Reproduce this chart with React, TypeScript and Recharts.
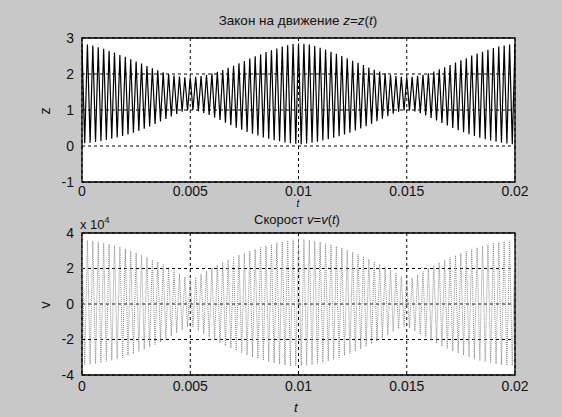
import React from 'react';
import { LineChart, Line, XAxis, YAxis, CartesianGrid, ReferenceArea } from 'recharts';

// time axis
const tEnd = 0.02;
const xTicks = [0, 0.005, 0.01, 0.015, 0.02];
const xTickLabels = ['0', '0.005', '0.01', '0.015', '0.02'];

const zPeaks = [
  2.80, 2.82, 2.79, 2.74, 2.70, 2.64, 2.60, 2.53, 2.48, 2.41, 2.35, 2.29, 2.22, 2.16, 2.10, 2.05, 2.00, 1.96, 1.93, 1.91,
  1.90, 1.92, 1.94, 1.97, 2.01, 2.06, 2.11, 2.17, 2.23, 2.30, 2.36, 2.43, 2.49, 2.55, 2.61, 2.66, 2.71, 2.76, 2.80, 2.83,
  2.85, 2.84, 2.82, 2.78, 2.73, 2.68, 2.62, 2.56, 2.50, 2.44, 2.37, 2.31, 2.25, 2.18, 2.12, 2.07, 2.02, 1.97, 1.94, 1.92,
  1.91, 1.92, 1.95, 1.98, 2.02, 2.07, 2.13, 2.19, 2.25, 2.32, 2.38, 2.44, 2.51, 2.57, 2.62, 2.67, 2.72, 2.76, 2.79, 2.82,
  2.84,
];
const zTroughs = [
  0.08, 0.09, 0.11, 0.14, 0.17, 0.20, 0.24, 0.28, 0.32, 0.37, 0.42, 0.48, 0.54, 0.61, 0.68, 0.75, 0.82, 0.89, 0.95, 0.99,
  1.00, 0.97, 0.92, 0.86, 0.79, 0.72, 0.65, 0.58, 0.51, 0.45, 0.39, 0.34, 0.29, 0.24, 0.20, 0.16, 0.13, 0.10, 0.08, 0.06,
  0.05, 0.07, 0.09, 0.12, 0.15, 0.19, 0.23, 0.27, 0.32, 0.37, 0.43, 0.49, 0.55, 0.62, 0.69, 0.76, 0.83, 0.90, 0.95, 0.99,
  0.99, 0.96, 0.91, 0.85, 0.78, 0.71, 0.64, 0.57, 0.50, 0.44, 0.38, 0.33, 0.28, 0.23, 0.19, 0.15, 0.12, 0.09, 0.07, 0.05,
];

// v = v(t), in units of 10^4
const vPeaks = [
  3.60, 3.58, 3.55, 3.50, 3.44, 3.37, 3.29, 3.20, 3.10, 2.99, 2.88, 2.76, 2.63, 2.50, 2.36, 2.21, 2.05, 1.88, 1.70, 1.52,
  1.40, 1.50, 1.68, 1.86, 2.03, 2.19, 2.35, 2.49, 2.62, 2.75, 2.87, 2.98, 3.09, 3.19, 3.28, 3.36, 3.44, 3.51, 3.57, 3.62,
  3.66, 3.64, 3.60, 3.55, 3.49, 3.42, 3.34, 3.25, 3.15, 3.04, 2.92, 2.80, 2.67, 2.53, 2.39, 2.24, 2.08, 1.91, 1.73, 1.55,
  1.38, 1.47, 1.65, 1.83, 2.00, 2.17, 2.33, 2.47, 2.61, 2.74, 2.86, 2.97, 3.08, 3.18, 3.27, 3.35, 3.42, 3.48, 3.53, 3.57,
  3.60,
];
const vTroughs = [
  -3.42, -3.40, -3.36, -3.31, -3.25, -3.18, -3.10, -3.01, -2.91, -2.80, -2.68, -2.56, -2.43, -2.29, -2.14, -1.98, -1.81, -1.63, -1.45, -1.30,
  -1.32, -1.50, -1.69, -1.87, -2.04, -2.20, -2.35, -2.49, -2.62, -2.75, -2.87, -2.98, -3.08, -3.17, -3.25, -3.32, -3.39, -3.44, -3.48, -3.50,
  -3.49, -3.46, -3.42, -3.36, -3.29, -3.21, -3.12, -3.02, -2.91, -2.79, -2.66, -2.53, -2.39, -2.24, -2.08, -1.91, -1.73, -1.55, -1.39, -1.28,
  -1.35, -1.53, -1.71, -1.89, -2.06, -2.22, -2.37, -2.51, -2.64, -2.76, -2.88, -2.99, -3.09, -3.18, -3.26, -3.33, -3.39, -3.43, -3.46, -3.48,
];

const zTicks = [-1, 0, 1, 2, 3];
const vTicks = [-4, -2, 0, 2, 4];

// interleave crests and troughs on the time grid
function zigzag(peaks: number[], troughs: number[]) {
  const step = tEnd / troughs.length;
  const rows: { t: number; y: number }[] = [];
  troughs.forEach((lo, i) => {
    rows.push({ t: i * step, y: peaks[i] });
    rows.push({ t: (i + 0.5) * step, y: lo });
  });
  rows.push({ t: tEnd, y: peaks[peaks.length - 1] });
  return rows;
}

const zData = zigzag(zPeaks, zTroughs);
const vData = zigzag(vPeaks, vTroughs);

const font = '"Liberation Sans", Arial, sans-serif';
const tickStyle = { fontSize: 14, fill: '#111', fontFamily: font };
const fmtX = (v: number) => xTickLabels[xTicks.indexOf(v)] ?? String(v);

const abs = (x: number, y: number, extra: React.CSSProperties = {}): React.CSSProperties => ({
  position: 'absolute', left: x, top: y, fontFamily: font, color: '#111', whiteSpace: 'nowrap', lineHeight: 1, ...extra,
});

export default function App() {
  return (
    <div style={{ position: 'relative', width: 562, height: 417, background: '#c8c8c8', overflow: 'hidden' }}>
      <style>{'body{margin:0}'}</style>

      <div style={{ position: 'absolute', left: 0, top: 0 }}>
        <LineChart width={562} height={210} data={zData} margin={{ top: 38, right: 47, left: 0, bottom: 0 }}>
          <CartesianGrid stroke="#000" strokeDasharray="3 3" fill="#fff" fillOpacity={1} />
          <XAxis type="number" dataKey="t" domain={[0, tEnd]} ticks={xTicks} tickFormatter={fmtX}
            height={28} tickLine={false} axisLine={false} tickSize={2} tick={tickStyle} allowDataOverflow />
          <YAxis type="number" domain={[-1, 3]} ticks={zTicks} width={82} tickLine={false}
            axisLine={false} tickSize={6} tick={tickStyle} allowDataOverflow />
          <Line type="linear" dataKey="y" stroke="#000" strokeWidth={1.2} dot={false} isAnimationActive={false} />
          <ReferenceArea x1={0} x2={tEnd} y1={-1} y2={3} fill="none" stroke="#000" strokeWidth={1.3} />
        </LineChart>
      </div>

      <div style={{ position: 'absolute', left: 0, top: 200 }}>
        <LineChart width={562} height={203} data={vData} margin={{ top: 33, right: 47, left: 0, bottom: 0 }}>
          <CartesianGrid stroke="#000" strokeDasharray="3 3" fill="#fff" fillOpacity={1} />
          <XAxis type="number" dataKey="t" domain={[0, tEnd]} ticks={xTicks} tickFormatter={fmtX}
            height={28} tickLine={false} axisLine={false} tickSize={4} tick={tickStyle} allowDataOverflow />
          <YAxis type="number" domain={[-4, 4]} ticks={vTicks} width={82} tickLine={false}
            axisLine={false} tickSize={6} tick={tickStyle} allowDataOverflow />
          <Line type="linear" dataKey="y" stroke="#8a8a8a" strokeWidth={1} strokeDasharray="1 1"
            dot={false} isAnimationActive={false} />
          <ReferenceArea x1={0} x2={tEnd} y1={-4} y2={4} fill="none" stroke="#000" strokeWidth={1.3} />
        </LineChart>
      </div>

      {/* titles and axis labels */}
      <div style={abs(298, 21, { fontSize: 13.5, transform: 'translate(-50%,-50%)' })}>
        Закон на движение <i>z</i>=<i>z</i>(<i>t</i>)
      </div>
      <div style={abs(298, 204, { fontSize: 10, fontStyle: 'italic', transform: 'translate(-50%,-50%)' })}>t</div>
      <div style={abs(297, 219, { fontSize: 13, transform: 'translate(-50%,-50%)' })}>
        Скорост <i>v</i>=<i>v</i>(<i>t</i>)
      </div>
      <div style={abs(80, 216, { fontSize: 13 })}>
        x 10<sup style={{ fontSize: 9, verticalAlign: 6 }}>4</sup>
      </div>
      <div style={abs(296, 408, { fontSize: 13.5, fontStyle: 'italic', transform: 'translate(-50%,-50%)' })}>t</div>
      <div style={abs(45, 111, { fontSize: 14, transform: 'translate(-50%,-50%) rotate(-90deg)' })}>z</div>
      <div style={abs(45, 305, { fontSize: 14, transform: 'translate(-50%,-50%) rotate(-90deg)' })}>v</div>
    </div>
  );
}
